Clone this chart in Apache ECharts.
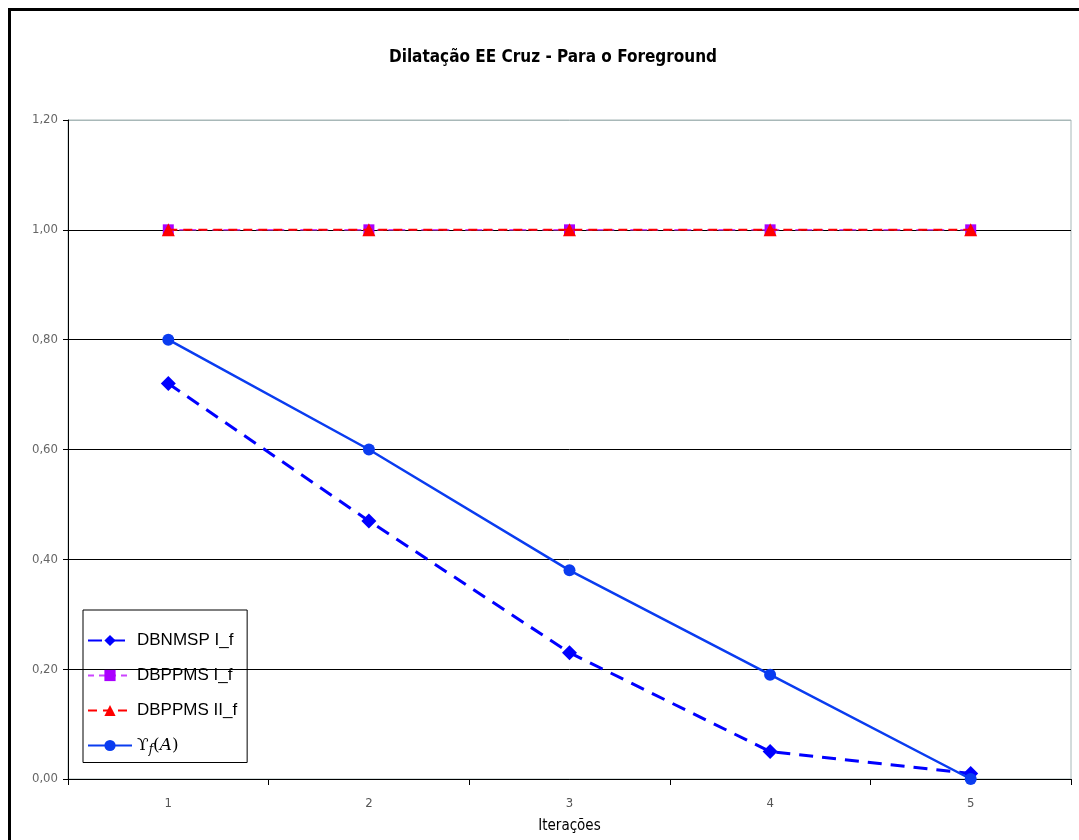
<!DOCTYPE html>
<html><head><meta charset="utf-8">
<script src="https://cdn.jsdelivr.net/npm/echarts@6/dist/echarts.min.js"></script>
<style>html,body{margin:0;padding:0;background:#fff}#c{width:1079px;height:840px}</style>
</head><body><div id="c"></div>
<script>
const categories = ['1', '2', '3', '4', '5'];
const dbnmspI = [0.72, 0.47, 0.23, 0.05, 0.01];
const dbppmsI = [1.00, 1.00, 1.00, 1.00, 1.00];
const dbppmsII = [1.00, 1.00, 1.00, 1.00, 1.00];
const upsilonA = [0.80, 0.60, 0.38, 0.19, 0.00];
const yTicks = ['0,00','0,20','0,40','0,60','0,80','1,00','1,20'];

const chart = echarts.init(document.getElementById('c'));
chart.setOption({
  animation: false,
  backgroundColor: '#fff',
  title: {
    text: 'Dilatação EE Cruz - Para o Foreground',
    left: 548, top: 44, textAlign: 'center',
    textStyle: {fontFamily: 'DejaVu Sans Condensed', fontWeight: 'bold', fontSize: 17, color: '#000'}
  },
  graphic: [
    {type: 'polyline', shape: {points: [[9.5, 840], [9.5, 9.5], [1082, 9.5]]}, style: {stroke: '#000', lineWidth: 3, fill: null}}
  ],
  grid: {left: 68, right: 8, top: 120, bottom: 61, show: true, borderColor: '#a8b8b8', borderWidth: 1},
  legend: {
    orient: 'vertical', left: 83, top: 610,
    borderColor: '#000', borderWidth: 1, padding: [22, 10, 7, 4],
    itemWidth: 44, itemHeight: 14, itemGap: 18,
    textStyle: {fontFamily: 'Liberation Sans', fontSize: 17, color: '#000',
      rich: {
        u: {fontFamily: 'DejaVu Serif', fontSize: 17, color: '#000'},
        s: {fontFamily: 'DejaVu Serif', fontStyle: 'italic', fontSize: 12, color: '#000', padding: [8, 0, 0, 0]},
        p: {fontFamily: 'DejaVu Serif', fontSize: 17, color: '#000'},
        i: {fontFamily: 'DejaVu Serif', fontStyle: 'italic', fontSize: 17, color: '#000'}
      }
    },
    formatter: function (n) {
      if (n === 'Yf(A)') return '{u|ϒ}{s|f}{p|(}{i|A}{p|)}';
      return n;
    },
    data: ['DBNMSP I_f', 'DBPPMS I_f', 'DBPPMS II_f', 'Yf(A)']
  },
  xAxis: {
    type: 'category', data: categories, boundaryGap: true,
    name: 'Iterações', nameLocation: 'middle', nameGap: 40,
    nameTextStyle: {fontFamily: 'DejaVu Sans Condensed', fontSize: 15, color: '#000'},
    axisLine: {lineStyle: {color: '#000', width: 1}},
    axisTick: {show: true, length: 6, alignWithLabel: false, lineStyle: {color: '#000'}},
    axisLabel: {margin: 18, fontFamily: 'DejaVu Sans Condensed', fontSize: 13, color: '#555'}
  },
  yAxis: {
    type: 'value', min: 0, max: 1.2, interval: 0.2,
    axisLine: {show: true, lineStyle: {color: '#000', width: 1}},
    axisTick: {show: true, length: 5, lineStyle: {color: '#000'}},
    axisLabel: {margin: 10, fontFamily: 'DejaVu Sans Condensed', fontSize: 13, color: '#666',
      formatter: function (v, i) { return yTicks[i]; }},
    splitLine: {show: true, lineStyle: {color: ['#000','#000','#000','#000','#000','#000','#a8b8b8'], width: 1}}
  },
  series: [
    {name: 'DBNMSP I_f', type: 'line', data: dbnmspI, symbol: 'diamond', symbolSize: 15,
      itemStyle: {color: '#0000ff'}, lineStyle: {color: '#0000ff', width: 3, type: [14, 9]}, z: 3},
    {name: 'DBPPMS I_f', type: 'line', data: dbppmsI, symbol: 'rect', symbolSize: 11,
      itemStyle: {color: '#aa00ff'}, lineStyle: {color: '#cc44ff', width: 1.5, type: [6, 5]}, z: 2},
    {name: 'DBPPMS II_f', type: 'line', data: dbppmsII, symbol: 'triangle', symbolSize: 13,
      itemStyle: {color: '#ff0000'}, lineStyle: {color: '#ff0000', width: 2, type: [9, 6]}, z: 4},
    {name: 'Yf(A)', type: 'line', data: upsilonA, symbol: 'circle', symbolSize: 12,
      itemStyle: {color: '#0a3cf0'}, lineStyle: {color: '#0a3cf0', width: 2.5}, z: 5}
  ]
});
</script></body></html>
